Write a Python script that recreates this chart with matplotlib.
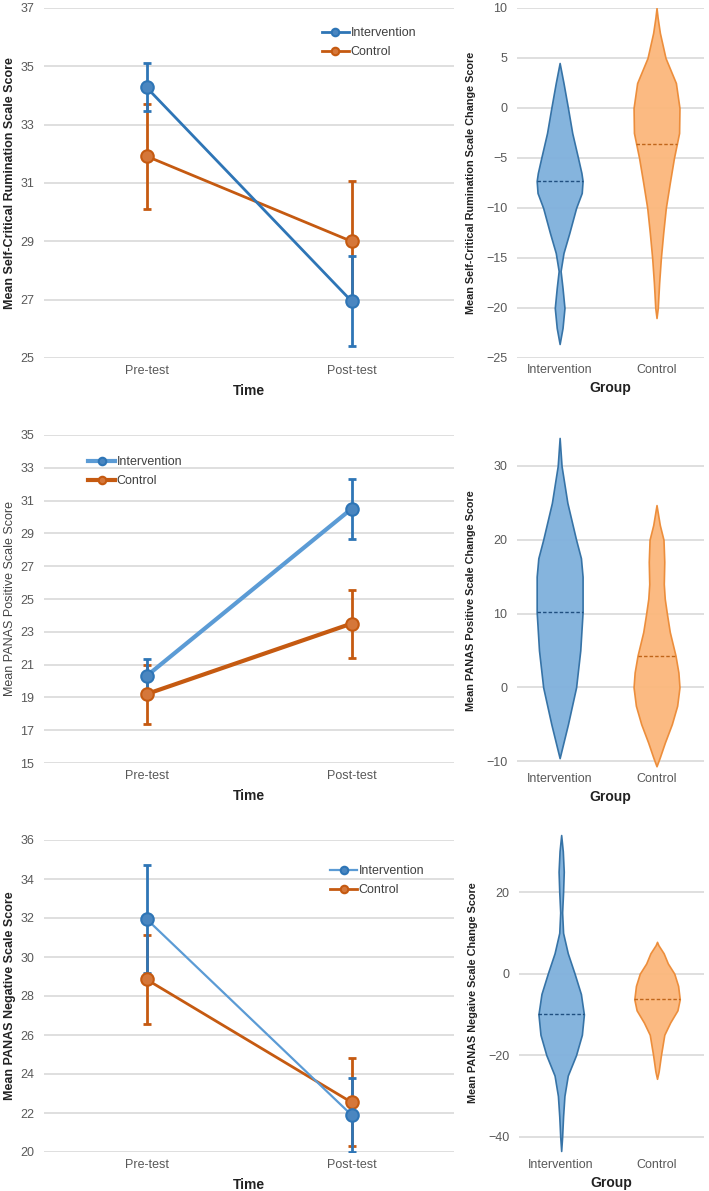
import numpy as np
import matplotlib
matplotlib.use("Agg")
import matplotlib.pyplot as plt

plt.rcParams['font.family'] = ['Liberation Sans', 'DejaVu Sans']

W, H = 709, 1191
time_labels = ["Pre-test", "Post-test"]
group_labels = ["Intervention", "Control"]
series_names = ["Intervention", "Control"]

# ---- Row 1: Self-Critical Rumination ----
r1_int_mean = [34.28, 26.95]
r1_int_err = [0.82, 1.55]
r1_ctl_mean = [31.92, 29.0]
r1_ctl_err = [1.8, 2.08]

# ---- Row 2: PANAS Positive ----
r2_int_mean = [20.3, 30.5]
r2_int_err = [1.05, 1.83]
r2_ctl_mean = [19.2, 23.5]
r2_ctl_err = [1.8, 2.07]

# ---- Row 3: PANAS Negative ----
r3_int_mean = [31.95, 21.9]
r3_int_err = [2.75, 1.9]
r3_ctl_mean = [28.85, 22.55]
r3_ctl_err = [2.28, 2.25]

# ---- Violin profiles (value, half-width in category units) ----
v1_int_y = [4.5, 2.5, 0, -2.5, -5, -6.5, -7.3, -8.5, -10, -12.5, -14.5, -16.3, -18, -20, -22, -23.6]
v1_int_w = [0.0, 0.04, 0.086, 0.13, 0.19, 0.225, 0.237, 0.228, 0.17, 0.10, 0.04, 0.01, 0.03, 0.05, 0.03, 0.0]
v1_int_med = -7.3
v1_ctl_y = [10, 9, 7.5, 5, 2.5, 0, -2.5, -5, -7.5, -10, -12.5, -15, -17.5, -20, -21]
v1_ctl_w = [0.0, 0.012, 0.035, 0.093, 0.2, 0.237, 0.233, 0.18, 0.137, 0.096, 0.069, 0.045, 0.027, 0.013, 0.0]
v1_ctl_med = -3.6

v2_int_y = [33.8, 30, 25, 20, 17.5, 15, 10.2, 5, 0, -5, -8, -9.6]
v2_int_w = [0.0, 0.02, 0.08, 0.17, 0.22, 0.237, 0.237, 0.213, 0.17, 0.086, 0.03, 0.0]
v2_int_med = 10.2
v2_ctl_y = [24.7, 22, 20, 17, 14, 12, 10, 7.5, 4.3, 2, 0, -2.5, -5, -7.5, -9.5, -10.7]
v2_ctl_w = [0.0, 0.034, 0.072, 0.08, 0.075, 0.085, 0.107, 0.137, 0.196, 0.226, 0.237, 0.213, 0.158, 0.086, 0.034, 0.0]
v2_ctl_med = 4.3

v3_int_y = [34, 30, 25, 20, 15, 10, 5, 0, -5, -10, -15, -20, -25, -30, -35, -40, -43.5]
v3_int_w = [0.0, 0.017, 0.027, 0.02, 0.01, 0.02, 0.069, 0.14, 0.206, 0.237, 0.216, 0.155, 0.069, 0.034, 0.02, 0.01, 0.0]
v3_int_med = -10
v3_ctl_y = [7.8, 7, 5, 2.5, 0, -3, -6.3, -9, -12, -15, -20, -24, -25.8]
v3_ctl_w = [0.0, 0.014, 0.069, 0.113, 0.18, 0.22, 0.237, 0.213, 0.137, 0.076, 0.041, 0.017, 0.0]
v3_ctl_med = -6.3

GRID = "#d9d9d9"
TICK = "#595959"
BLUE_DARK = "#2e75b6"
BLUE_LIGHT = "#5b9bd5"
ORANGE = "#c55a11"
V_BLUE_FILL = "#7fb0dc"
V_BLUE_EDGE = "#2f6ea3"
V_OR_FILL = "#fbb77b"
V_OR_EDGE = "#ec8a35"

fig = plt.figure(figsize=(W / 100, H / 100), dpi=100)


def ax_px(x0, y0, x1, y1):
    return fig.add_axes([x0 / W, 1 - y1 / H, (x1 - x0) / W, (y1 - y0) / H])


def style(ax):
    for s in ax.spines.values():
        s.set_visible(False)
    ax.yaxis.grid(True, color=GRID, linewidth=1.2)
    ax.set_axisbelow(True)
    ax.tick_params(length=0, colors=TICK, labelsize=9, pad=7)


def line_panel(ax, im, ie, cm, ce, ylim, yticks, ylabel, int_line, lw_i, lw_c,
               legend_loc, ylabel_bold=True):
    style(ax)
    x = np.arange(len(time_labels))
    ax.errorbar(x, im, yerr=ie, fmt='none', ecolor=BLUE_DARK, elinewidth=2,
                capsize=3, capthick=2, zorder=3)
    ax.errorbar(x, cm, yerr=ce, fmt='none', ecolor=ORANGE, elinewidth=2,
                capsize=3, capthick=2, zorder=2)
    ax.plot(x, cm, color=ORANGE, lw=lw_c, marker='o', ms=9, mfc="#d5773a",
            mec=ORANGE, mew=1.5, label=series_names[1], zorder=4)
    ax.plot(x, im, color=int_line, lw=lw_i, marker='o', ms=9, mfc="#4a86c0",
            mec=BLUE_DARK, mew=1.5, label=series_names[0], zorder=5)
    ax.set_xlim(-0.5, 1.5)
    ax.set_ylim(*ylim)
    ax.set_yticks(yticks)
    ax.set_xticks(x)
    ax.set_xticklabels(time_labels)
    ax.tick_params(axis='x', pad=5)
    ax.set_xlabel("Time", fontsize=10, fontweight='bold', color="#222222", labelpad=5)
    ax.set_ylabel(ylabel, fontsize=9, fontweight='bold' if ylabel_bold else 'normal',
                  color="#222222" if ylabel_bold else "#444444", labelpad=3)
    h, l = ax.get_legend_handles_labels()
    leg = ax.legend([h[1], h[0]], [l[1], l[0]], loc='upper left', bbox_to_anchor=legend_loc,
                    frameon=False, fontsize=9, handlelength=2.2, handletextpad=0.1,
                    labelspacing=0.55, markerscale=0.6, borderaxespad=0)
    for t in leg.get_texts():
        t.set_color("#404040")


def violin_panel(ax, profiles, ylim, yticks, ylabel):
    style(ax)
    fills = [(V_BLUE_FILL, V_BLUE_EDGE, "#1f4f80"), (V_OR_FILL, V_OR_EDGE, "#c0651a")]
    for i, (ys, ws, med) in enumerate(profiles):
        ys = np.asarray(ys, float)
        ws = np.asarray(ws, float)
        fc, ec, mc = fills[i]
        ax.fill_betweenx(ys, i - ws, i + ws, facecolor=fc, edgecolor=ec, lw=1.2,
                         alpha=0.95, zorder=3)
        order = np.argsort(ys)
        mw = np.interp(med, ys[order], ws[order])
        ax.plot([i - mw, i + mw], [med, med], ls=(0, (2.5, 1.5)), color=mc, lw=1.0, zorder=4)
    ax.set_xlim(-0.44, 1.49)
    ax.set_ylim(*ylim)
    ax.set_yticks(yticks)
    ax.set_xticks([0, 1])
    ax.set_xticklabels(group_labels)
    ax.tick_params(axis='x', pad=4)
    ax.set_xlabel("Group", fontsize=10, fontweight='bold', color="#222222", labelpad=4)
    ax.set_ylabel(ylabel, fontsize=7.8, fontweight='bold', color="#222222", labelpad=7)


# Row 1
a1 = ax_px(44, 8, 454, 358)
line_panel(a1, r1_int_mean, r1_int_err, r1_ctl_mean, r1_ctl_err, (25, 37),
           np.arange(25, 38, 2), "Mean Self-Critical Rumination Scale Score",
           BLUE_DARK, 2.0, 2.0, (0.665, 0.96))
b1 = ax_px(517, 8, 704, 358)
violin_panel(b1, [(v1_int_y, v1_int_w, v1_int_med), (v1_ctl_y, v1_ctl_w, v1_ctl_med)],
             (-25, 10), np.arange(-25, 11, 5), "Mean Self-Critical Rumination Scale Change Score")

# Row 2
a2 = ax_px(44, 435, 454, 763)
line_panel(a2, r2_int_mean, r2_int_err, r2_ctl_mean, r2_ctl_err, (15, 35),
           np.arange(15, 36, 2), "Mean PANAS Positive Scale Score",
           BLUE_LIGHT, 3.0, 3.0, (0.095, 0.95), ylabel_bold=False)
b2 = ax_px(517, 435, 704, 767)
violin_panel(b2, [(v2_int_y, v2_int_w, v2_int_med), (v2_ctl_y, v2_ctl_w, v2_ctl_med)],
             (-10.8, 34.2), [-10, 0, 10, 20, 30], "Mean PANAS Positive Scale Change Score")

# Row 3
a3 = ax_px(44, 840, 454, 1152)
line_panel(a3, r3_int_mean, r3_int_err, r3_ctl_mean, r3_ctl_err, (20, 36),
           np.arange(20, 37, 2), "Mean PANAS Negative Scale Score",
           BLUE_LIGHT, 1.6, 2.0, (0.685, 0.935))
b3 = ax_px(519, 833, 704, 1153)
violin_panel(b3, [(v3_int_y, v3_int_w, v3_int_med), (v3_ctl_y, v3_ctl_w, v3_ctl_med)],
             (-44, 34.5), [-40, -20, 0, 20], "Mean PANAS Negaive Scale Change Score")

fig.savefig("out.png", dpi=100, facecolor="white")
